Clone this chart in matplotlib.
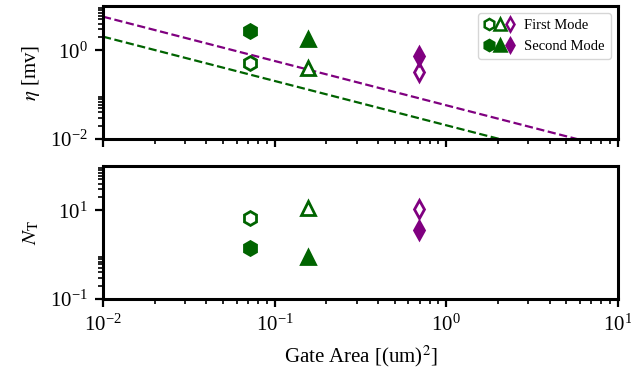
import numpy as np
import matplotlib
matplotlib.use('Agg')
import matplotlib.pyplot as plt
from matplotlib.legend_handler import HandlerTuple
from matplotlib.lines import Line2D

plt.rcParams['font.family'] = ['Liberation Serif', 'DejaVu Serif']
plt.rcParams['mathtext.fontset'] = 'stix'

# device data (gate area in um^2)
area = [0.072, 0.157, 0.695]
markers = ['h', '^', 'd']
colors = ['#006400', '#006400', '#800080']
sizes = [10, 10, 9]

# eta [mV]
eta_first = [0.51, 0.41, 0.32]
eta_second = [2.79, 1.81, 0.76]

# N_T
nt_first = [6.6, 11.5, 10.6]
nt_second = [1.39, 0.87, 3.6]

# dashed guide lines (read from endpoints)
guide_area = [1e-2, 1e1]
guide_green = [2.04, 2.04e-3]
guide_purple = [5.76, 5.76e-3]

fig = plt.figure(figsize=(6.31, 3.79), dpi=100)
ax1 = fig.add_axes([0.1632, 0.6332, 0.8162, 0.3509])
ax2 = fig.add_axes([0.1632, 0.2111, 0.8162, 0.3509], sharex=ax1)

mew = 2

ax1.plot(guide_area, guide_purple, '--', color='#800080', lw=1.6)
ax1.plot(guide_area, guide_green, '--', color='#006400', lw=1.6)

for i in range(len(area)):
    ax1.plot(area[i], eta_first[i], marker=markers[i], ms=sizes[i], mew=mew,
             mec=colors[i], mfc='white', ls='none')
    ax1.plot(area[i], eta_second[i], marker=markers[i], ms=sizes[i], mew=mew,
             mec=colors[i], mfc=colors[i], ls='none')
    ax2.plot(area[i], nt_first[i], marker=markers[i], ms=sizes[i], mew=mew,
             mec=colors[i], mfc='white', ls='none')
    ax2.plot(area[i], nt_second[i], marker=markers[i], ms=sizes[i], mew=mew,
             mec=colors[i], mfc=colors[i], ls='none')

for ax in (ax1, ax2):
    ax.set_xscale('log')
    ax.set_yscale('log')
    for s in ax.spines.values():
        s.set_linewidth(2.2)
    ax.tick_params(which='major', length=6, width=1.6, labelsize=15, pad=5)
    ax.tick_params(which='minor', length=3.5, width=1.2)

subs = np.arange(2, 10)
ax1.set_yticks([1e-2, 1e0])
ax1.set_yticks(np.concatenate([subs * 1e-2, subs * 1e0]), minor=True)
ax2.set_yticks([1e-1, 1e1])
ax2.set_yticks(np.concatenate([subs * 1e-1, subs * 1e1]), minor=True)
ax2.set_xticks([1e-2, 1e-1, 1e0, 1e1])
ax2.set_xticks(np.concatenate([subs * 1e-2, subs * 1e-1, subs * 1e0]), minor=True)
ax1.set_ylim(1e-2, 1e1)
ax2.set_ylim(1e-1, 1e2)
ax1.set_xlim(1e-2, 1e1)
ax1.tick_params(labelbottom=False)

ax1.set_ylabel(r'$\eta$ [mv]', fontsize=15, labelpad=6)
ax2.set_ylabel(r'$N_{\mathrm{T}}$', fontsize=15, labelpad=6)
ax2.set_xlabel(r'Gate Area [(um)$^2$]', fontsize=15, labelpad=6)

first_h = tuple(Line2D([], [], marker=markers[i], ms=sizes[i] * 0.8, mew=1.8,
                       mec=colors[i], mfc='white', ls='none') for i in range(3))
second_h = tuple(Line2D([], [], marker=markers[i], ms=sizes[i] * 0.8, mew=1.8,
                        mec=colors[i], mfc=colors[i], ls='none') for i in range(3))
ax1.legend([first_h, second_h], ['First Mode', 'Second Mode'],
           handler_map={tuple: HandlerTuple(ndivide=None, pad=0)},
           loc='upper right', fontsize=10.5, handlelength=2.2, handletextpad=0.6,
           borderpad=0.4, labelspacing=0.5, framealpha=0.8, edgecolor='#cccccc')

fig.savefig('out.png', dpi=100)
